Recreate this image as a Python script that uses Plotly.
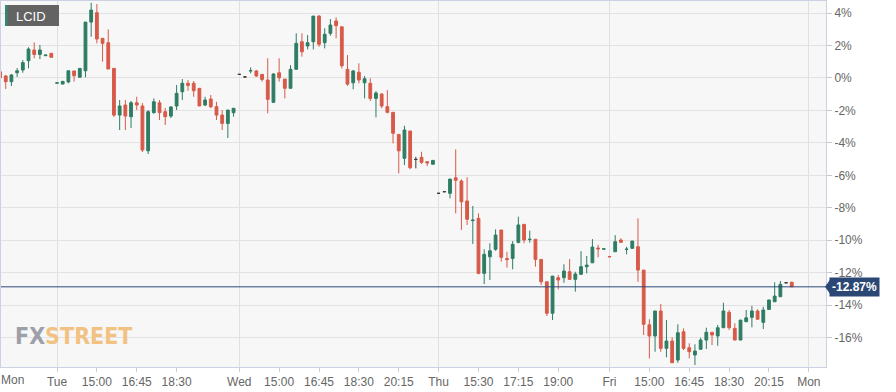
import plotly.graph_objects as go

# ---- data (15-minute candles, % change) ----
slots = list(range(140))
opens = [0.38, 0.12, -0.23, 0.32, 0.49, 1.06, 1.72, 1.45, 1.37, 1.52,
         -0.32, -0.38, -0.25, 0.43, 0.04, 0.44, 3.44, 4.02, 2.44, 2.17,
         0.59, -2.29, -1.67, -2.39, -1.53, -1.73, -4.49, -2.14, -1.53, -2.08,
         -2.35, -1.73, -0.85, -0.33, -0.33, -0.64, -1.67, -1.30, -1.77, -2.29,
         -2.80, -2.14, 0.22, 0.06, 0.43, 0.43, 0.22, -0.13, -1.50, 0.32,
         -0.07, -0.64, 0.53, 2.23, 1.97, 2.23, 3.81, 2.17, 2.75, 3.51,
         3.15, 0.53, -0.30, 0.35, -0.30, -0.33, -1.26, -0.99, -1.77, -2.12,
         -3.48, -4.95, -3.27, -5.02, -4.89, -5.16, -5.32, -7.11, -7.01, -7.11,
         -6.15, -6.35, -7.58, -8.79, -8.65, -12.04, -11.02, -10.56, -9.37, -11.13,
         -11.12, -10.13, -9.02, -9.96, -9.94, -11.18, -12.56, -14.50, -12.31, -12.31,
         -11.94, -12.41, -12.10, -11.63, -11.39, -10.48, -10.55, -11.00, -10.71, -9.99,
         -10.57, -10.50, -10.40, -11.84, -15.21, -15.90, -14.36, -16.66, -16.21, -17.38,
         -15.64, -16.62, -17.07, -16.72, -16.15, -15.67, -15.90, -15.39, -14.44, -15.43,
         -16.15, -15.02, -14.75, -14.36, -15.06, -14.26, -13.79, -13.48, -12.62, -12.59]
highs = [0.49, 0.18, 0.24, 0.61, 1.10, 1.89, 2.19, 2.03, 1.42, 1.52,
         -0.30, -0.21, 0.44, 0.43, 0.59, 3.44, 4.63, 4.55, 2.44, 2.99,
         0.59, -1.36, -1.36, -1.42, -1.16, -1.55, -1.98, -1.26, -1.36, -1.85,
         -1.73, -0.44, -0.07, -0.13, -0.19, -0.64, -1.16, -1.05, -1.47, -1.98,
         -1.98, -1.87, 0.22, 0.06, 0.65, 0.49, 0.22, 1.21, 0.30, 1.21,
         -0.07, 0.79, 2.75, 2.75, 2.64, 3.81, 3.88, 3.06, 3.63, 3.73,
         3.15, 1.41, 0.49, 0.90, 0.12, -0.02, -0.81, -0.95, -0.75, -2.12,
         -3.48, -2.95, -3.27, -4.86, -4.55, -5.16, -5.08, -7.11, -7.01, -6.23,
         -4.40, -6.25, -6.12, -7.89, -8.34, -10.56, -10.19, -9.33, -9.37, -10.71,
         -10.05, -8.55, -9.02, -9.41, -9.94, -11.18, -12.56, -12.21, -12.14, -11.48,
         -11.16, -11.94, -10.67, -10.97, -9.93, -10.28, -10.53, -11.00, -9.68, -9.88,
         -10.40, -10.05, -8.65, -11.84, -14.87, -14.36, -13.93, -14.92, -15.98, -15.18,
         -15.43, -16.35, -16.41, -16.01, -15.39, -15.67, -15.22, -13.85, -14.30, -15.12,
         -14.92, -14.30, -14.04, -14.26, -14.10, -13.68, -12.59, -12.51, -12.62, -12.55]
lows = [-0.13, -0.68, -0.50, 0.06, 0.32, 0.59, 1.21, 1.16, 1.36, 1.27,
        -0.32, -0.38, -0.33, -0.23, 0.04, 0.04, 2.54, 2.13, 1.00, 0.55,
        -2.41, -3.21, -3.21, -3.09, -1.98, -4.57, -4.69, -2.20, -2.59, -2.90,
        -2.47, -1.98, -1.36, -0.79, -1.16, -1.73, -1.73, -1.87, -2.59, -3.21,
        -3.70, -2.39, 0.22, 0.06, 0.28, 0.06, -0.23, -2.18, -1.55, -0.23,
        -1.26, -0.64, 0.53, 1.31, 1.76, 1.76, 1.92, 1.82, 2.60, 2.44,
        0.59, -0.50, -0.70, -0.33, -1.26, -1.42, -2.43, -1.87, -2.18, -4.03,
        -5.88, -5.37, -5.63, -5.57, -5.30, -5.43, -5.32, -7.11, -7.01, -7.42,
        -8.34, -9.37, -9.06, -10.23, -12.10, -12.70, -12.45, -10.65, -11.32, -11.69,
        -11.79, -10.19, -10.19, -10.15, -11.63, -12.76, -14.67, -14.92, -13.03, -12.62,
        -12.41, -13.17, -12.10, -12.04, -11.39, -11.05, -10.55, -11.02, -10.71, -10.13,
        -10.87, -10.50, -12.56, -15.84, -17.28, -16.87, -16.87, -17.21, -17.55, -17.55,
        -16.77, -17.28, -17.69, -16.72, -16.70, -16.46, -16.50, -15.39, -15.53, -16.15,
        -16.15, -15.02, -15.37, -14.87, -15.47, -14.26, -13.79, -13.48, -12.62, -12.87]
closes = [0.01, -0.23, 0.18, 0.44, 0.94, 1.78, 1.45, 1.72, 1.41, 1.27,
          -0.30, -0.21, 0.44, 0.14, 0.59, 3.44, 4.18, 2.40, 2.13, 0.55,
          -2.29, -1.73, -2.35, -1.53, -1.67, -4.44, -2.08, -1.47, -2.14, -2.39,
          -1.79, -0.95, -0.33, -0.46, -0.79, -1.73, -1.36, -1.77, -2.29, -2.80,
          -1.98, -1.87, 0.22, 0.06, 0.45, 0.12, -0.09, -1.32, 0.24, 0.01,
          -0.64, 0.53, 2.13, 1.61, 2.17, 3.81, 2.07, 2.69, 3.26, 3.22,
          0.75, -0.38, 0.43, -0.13, -0.05, -1.26, -0.93, -1.73, -2.12, -3.41,
          -4.49, -3.21, -5.53, -5.02, -5.20, -5.24, -5.08, -7.11, -7.01, -6.23,
          -6.31, -7.63, -8.71, -8.76, -12.04, -10.87, -10.65, -9.68, -11.05, -11.19,
          -10.25, -9.06, -9.99, -9.94, -11.18, -12.56, -14.50, -12.21, -12.45, -11.90,
          -12.41, -12.08, -11.63, -11.53, -10.42, -10.53, -10.53, -11.02, -10.09, -10.13,
          -10.55, -10.05, -11.84, -15.18, -15.90, -14.36, -16.66, -16.21, -17.55, -15.70,
          -16.66, -16.87, -16.83, -16.15, -15.67, -15.84, -15.39, -14.36, -15.39, -16.15,
          -14.92, -14.78, -14.36, -14.87, -14.30, -13.68, -13.44, -12.72, -12.62, -12.87]

x_tick_slots = [10, 17, 24, 31, 42, 49, 56, 63, 70, 77, 84, 91, 98, 107, 114, 121, 128, 135, 142]
x_tick_labels = ["Tue", "15:00", "16:45", "18:30", "Wed", "15:00", "16:45", "18:30", "20:15",
                 "Thu", "15:30", "17:15", "19:00", "Fri", "15:00", "16:45", "18:30", "20:15", "Mon"]
day_slots = [10, 42, 77, 107, 142]
first_day_label = "Mon"
y_tick_vals = [4, 2, 0, -2, -4, -6, -8, -10, -12, -14, -16]
y_tick_labels = ["4%", "2%", "0%", "-2%", "-4%", "-6%", "-8%", "-10%", "-12%", "-14%", "-16%"]
symbol = "LCID"

GREEN = "#2e7c64"
RED = "#d75a48"
NEUTRAL = "#3a3a3a"
NAVY = "#2b4875"
FONT = "Arial, Liberation Sans, sans-serif"


def pick(mask):
    idx = [i for i in range(len(slots)) if mask(i)]
    return ([slots[i] for i in idx], [opens[i] for i in idx], [highs[i] for i in idx],
            [lows[i] for i in idx], [closes[i] for i in idx])


fig = go.Figure()
dx, do, dh, dl, dc = pick(lambda i: opens[i] != closes[i])
fig.add_trace(go.Candlestick(
    x=dx, open=do, high=dh, low=dl, close=dc,
    increasing=dict(line=dict(color=GREEN, width=1), fillcolor=GREEN),
    decreasing=dict(line=dict(color=RED, width=1), fillcolor=RED),
    whiskerwidth=0, hoverinfo="skip"))
nx, no, nh, nl, nc = pick(lambda i: opens[i] == closes[i])
fig.add_trace(go.Candlestick(
    x=nx, open=no, high=nh, low=nl, close=nc,
    increasing=dict(line=dict(color=NEUTRAL, width=1), fillcolor=NEUTRAL),
    decreasing=dict(line=dict(color=NEUTRAL, width=1), fillcolor=NEUTRAL),
    whiskerwidth=0, hoverinfo="skip"))

last = closes[-1]

fig.update_layout(
    width=896, height=392,
    margin=dict(l=1, r=70, t=1, b=25),
    paper_bgcolor="white", plot_bgcolor="#f7f7f7",
    showlegend=False, font=dict(family=FONT, size=12, color="#666"),
    boxgap=0.3,
    xaxis=dict(range=[0.169, 145.01], rangeslider=dict(visible=False),
               tickmode="array", tickvals=x_tick_slots, ticktext=x_tick_labels,
               ticks="outside", ticklen=4, tickcolor="#c5cbdf",
               showgrid=False, zeroline=False,
               showline=True, linecolor="#ccd2e4", linewidth=1, mirror=True,
               tickfont=dict(family=FONT, size=12, color="#666"),
               minor=dict(tickmode="array", tickvals=day_slots, showgrid=True,
                          gridcolor="#e0e0e0", gridwidth=1, ticks="")),
    yaxis=dict(side="right", range=[-17.81, 4.74],
               tickmode="array", tickvals=y_tick_vals, ticktext=y_tick_labels,
               ticks="outside", ticklen=5, tickcolor="#c8c8c8",
               showgrid=True, gridcolor="#e2e2e2", gridwidth=1, zeroline=False,
               showline=True, linecolor="#ccd2e4", linewidth=1, mirror=True,
               tickfont=dict(family=FONT, size=12, color="#666")),
)

shapes = [
    dict(type="line", xref="paper", x0=0, x1=1, yref="y", y0=last, y1=last,
         line=dict(color=NAVY, width=1)),
    dict(type="path", xref="paper", xsizemode="pixel", xanchor=1,
         yref="y", ysizemode="pixel", yanchor=last,
         path="M -1,0 L 4,7 L 4,-7 Z", fillcolor=NAVY, line=dict(width=0)),
    dict(type="rect", xref="paper", xsizemode="pixel", xanchor=0, x0=4, x1=58,
         yref="paper", ysizemode="pixel", yanchor=1, y0=-4, y1=-25,
         fillcolor="#636363", line=dict(width=0)),
    dict(type="rect", xref="paper", xsizemode="pixel", xanchor=0, x0=4, x1=6.5,
         yref="paper", ysizemode="pixel", yanchor=1, y0=-4, y1=-25,
         fillcolor="#2e8b6e", line=dict(width=0)),
]
fig.update_layout(shapes=shapes)

fig.add_annotation(xref="paper", x=1, xanchor="left", xshift=3,
                   yref="y", y=last, yanchor="middle",
                   text=f"<b>{last:.2f}%</b>", showarrow=False,
                   font=dict(family=FONT, size=12, color="white"),
                   bgcolor=NAVY, borderpad=2)
fig.add_annotation(xref="paper", x=0, xanchor="left", xshift=13,
                   yref="paper", y=1, yanchor="top", yshift=-6,
                   text=symbol, showarrow=False,
                   font=dict(family=FONT, size=13, color="white"))
fig.add_annotation(xref="paper", x=0, xanchor="left", xshift=12,
                   yref="paper", y=0, yanchor="bottom", yshift=16,
                   text="<b><span style='color:#9da0a8'>FX</span>"
                        "<span style='color:#f2c283'>STREET</span></b>",
                   showarrow=False,
                   font=dict(family="Liberation Sans Narrow, DejaVu Sans Condensed, sans-serif", size=23))
fig.add_annotation(xref="paper", x=0, xanchor="left", xshift=-2,
                   yref="paper", y=0, yanchor="top", yshift=-4,
                   text=first_day_label, showarrow=False,
                   font=dict(family=FONT, size=12, color="#666"))

fig.write_html("out.html", config={"displayModeBar": False},
               post_script="document.body.style.margin='0';")
